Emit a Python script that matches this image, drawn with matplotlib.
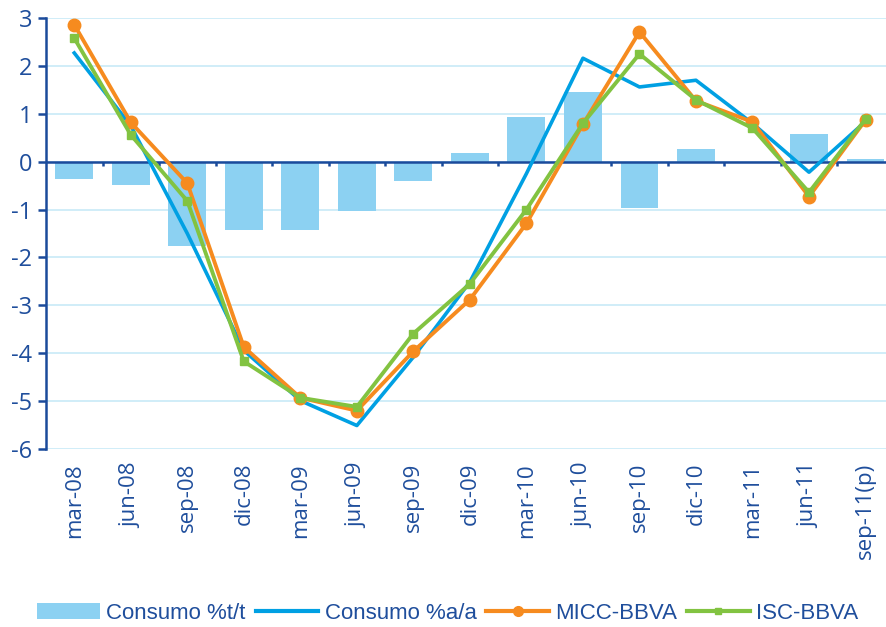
import numpy as np
import matplotlib
matplotlib.use("Agg")
import matplotlib.pyplot as plt
from matplotlib.lines import Line2D
from matplotlib.patches import Patch

plt.rcParams['font.family'] = ['Open Sans', 'DejaVu Sans']

categories = ["mar-08", "jun-08", "sep-08", "dic-08", "mar-09", "jun-09", "sep-09",
              "dic-09", "mar-10", "jun-10", "sep-10", "dic-10", "mar-11", "jun-11", "sep-11(p)"]

consumo_tt = [-0.36, -0.48, -1.77, -1.43, -1.43, -1.03, -0.40,
              0.18, 0.93, 1.46, -0.97, 0.27, -0.03, 0.58, 0.05]
consumo_aa = [2.27, 0.75, -1.50, -3.94, -4.99, -5.51, -4.08,
              -2.51, -0.25, 2.16, 1.56, 1.70, 0.80, -0.22, 0.84]
micc = [2.86, 0.82, -0.45, -3.87, -4.93, -5.20, -3.96,
        -2.88, -1.29, 0.78, 2.71, 1.27, 0.83, -0.73, 0.87]
isc = [2.58, 0.56, -0.82, -4.17, -4.93, -5.12, -3.59,
       -2.55, -1.00, 0.80, 2.25, 1.29, 0.70, -0.64, 0.89]

text_col = "#1f4e9c"
axis_col = "#1a4a9b"
bar_col = "#8cd1f2"
blue_col = "#00a0e3"
orange_col = "#f68b1f"
green_col = "#82c341"
grid_col = "#c8eaf7"

fig = plt.figure(figsize=(8.87, 6.27), dpi=100)
ax = fig.add_axes([46 / 887, 1 - 449 / 627, 1 - 46 / 887, (449 - 18) / 627])

x = np.arange(len(categories))

ax.set_ylim(-6, 3)
ax.set_xlim(-0.5, 14.38)
ax.set_yticks(np.arange(-6, 4, 1))
ax.yaxis.grid(True, color=grid_col, linewidth=1.2)
ax.set_axisbelow(True)

ax.bar(x, consumo_tt, width=0.67, color=bar_col, zorder=2)

# zero line with category separators
ax.axhline(0, color=axis_col, linewidth=1.8, zorder=3)
ax.vlines(x[:-1] + 0.5, -0.1, 0, color=axis_col, linewidth=1.8, zorder=3)

ax.plot(x, consumo_aa, color=blue_col, linewidth=2.6, zorder=4)
ax.plot(x, micc, color=orange_col, linewidth=2.8, marker="o", markersize=9, zorder=5)
ax.plot(x, isc, color=green_col, linewidth=2.8, marker="s", markersize=6, zorder=6)

for s in ["top", "right", "bottom"]:
    ax.spines[s].set_visible(False)
ax.spines["left"].set_color(axis_col)
ax.spines["left"].set_linewidth(1.8)

ax.tick_params(axis="y", colors=axis_col, length=6, width=1.8, labelsize=17,
               labelcolor=text_col, pad=4)
ax.set_yticklabels([str(v) for v in range(-6, 4)])
ax.set_xticks(x)
ax.set_xticklabels(categories, rotation=90, fontsize=16, color=text_col)
ax.tick_params(axis="x", length=0, pad=10)

handles = [
    Patch(facecolor=bar_col, edgecolor="none"),
    Line2D([], [], color=blue_col, linewidth=3),
    Line2D([], [], color=orange_col, linewidth=3, marker="o", markersize=7),
    Line2D([], [], color=green_col, linewidth=3, marker="s", markersize=5),
]
labels = ["Consumo %t/t", "Consumo %a/a", "MICC-BBVA", "ISC-BBVA"]
leg = fig.legend(handles, labels, loc="center", bbox_to_anchor=(0.505, 0.022), ncol=4,
                 frameon=False, handlelength=2.8, handletextpad=0.3,
                 columnspacing=0.45, labelcolor=text_col,
                 prop={"family": ["Liberation Sans", "DejaVu Sans"], "size": 16})

fig.savefig("out.png", dpi=100)
